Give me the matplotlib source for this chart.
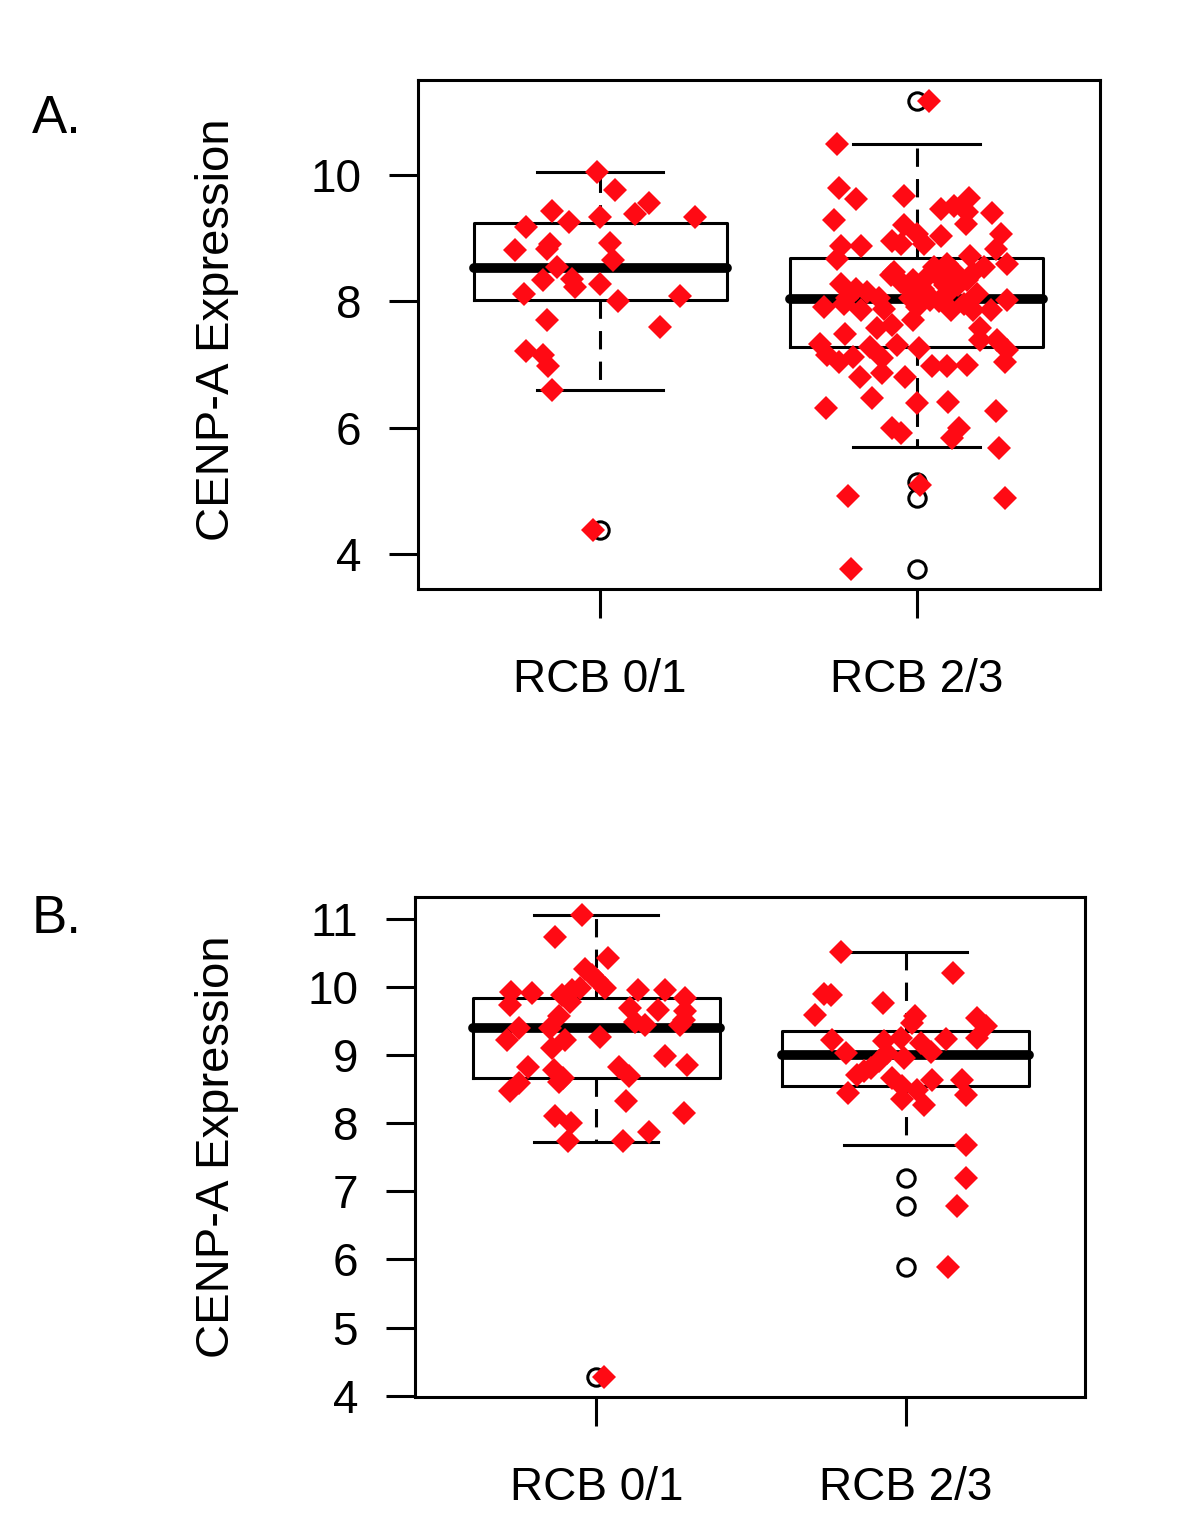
import matplotlib
matplotlib.use("Agg")
import matplotlib.pyplot as plt

plt.rcParams['font.family'] = ['Liberation Sans', 'DejaVu Sans']

groups = ["RCB 0/1", "RCB 2/3"]

# panel A box statistics
a_q1 = [8.02, 7.28]
a_med = [8.53, 8.03]
a_q3 = [9.24, 8.69]
a_lo = [6.60, 5.69]
a_hi = [10.05, 10.49]
a_fliers = [[4.39], [11.17, 5.15, 4.89, 3.76]]

# panel A jittered points (offset from group centre, value)
a1_jit = [-0.01, 0.047, -0.153, 0.0, 0.11, 0.153, 0.30, -0.10, -0.234, -0.269,
          -0.158, -0.169, 0.032, 0.042, -0.137, -0.18, -0.09, -0.079, 0.0, -0.24,
          0.055, 0.251, -0.169, 0.188, -0.234, -0.18, -0.164, -0.153, -0.023]
a1_y = [10.05, 9.76, 9.43, 9.33, 9.38, 9.55, 9.34, 9.25, 9.18, 8.81,
        8.90, 8.83, 8.93, 8.65, 8.54, 8.33, 8.36, 8.23, 8.28, 8.12,
        8.0, 8.09, 7.71, 7.60, 7.22, 7.15, 6.97, 6.59, 4.39]

a2_jit = [0.04, -0.253, -0.246, -0.19, -0.04, -0.26, 0.166, 0.118, 0.076, 0.16,
          0.24, 0.155, -0.04, -0.077, -0.05, 0.002, 0.023, 0.076, 0.266, 0.25,
          -0.24, -0.177, -0.25, 0.17, 0.287, 0.213, 0.097, 0.055, -0.082, -0.05,
          -0.01, 0.034, 0.076, 0.118, 0.16, -0.24, -0.19, -0.157, -0.019, 0.034,
          0.097, 0.19, 0.287, -0.293, -0.23, -0.177, -0.103, 0.002, 0.044, 0.108,
          0.18, 0.234, -0.01, -0.124, -0.077, -0.225, 0.20, -0.304, -0.146, -0.061,
          0.007, 0.20, 0.255, -0.283, -0.246, -0.20, -0.11, 0.287, 0.28, 0.05,
          0.097, 0.16, -0.18, -0.11, -0.035, -0.14, 0.0, 0.10, -0.285, 0.25,
          -0.077, -0.05, 0.134, 0.113, 0.26, 0.01, -0.217, 0.28, -0.206,
          0.06, 0.09, 0.02, 0.12, -0.02, 0.07, 0.13, -0.12, 0.15, -0.07, 0.18, -0.22]
a2_y = [11.17, 10.48, 9.79, 9.62, 9.67, 9.29, 9.64, 9.51, 9.46, 9.41,
        9.39, 9.22, 9.20, 8.96, 8.91, 9.07, 8.91, 9.04, 9.07, 8.83,
        8.88, 8.88, 8.67, 8.72, 8.59, 8.54, 8.59, 8.54, 8.41, 8.30,
        8.33, 8.38, 8.36, 8.38, 8.33, 8.28, 8.20, 8.15, 8.17, 8.12,
        8.12, 8.12, 8.02, 7.91, 7.96, 7.86, 7.88, 7.91, 8.02, 7.86,
        7.86, 7.86, 7.70, 7.57, 7.62, 7.49, 7.57, 7.33, 7.28, 7.31,
        7.26, 7.39, 7.39, 7.15, 7.04, 7.12, 7.10, 7.23, 7.04, 6.97,
        6.97, 6.99, 6.81, 6.86, 6.81, 6.47, 6.39, 6.41, 6.31, 6.26,
        6.0, 5.92, 6.0, 5.84, 5.68, 5.10, 4.92, 4.89, 3.76,
        8.45, 8.25, 8.20, 8.48, 8.05, 8.0, 8.25, 8.05, 7.95, 8.47, 8.45, 8.05]

# panel B box statistics
b_q1 = [8.67, 8.55]
b_med = [9.40, 9.00]
b_q3 = [9.84, 9.35]
b_lo = [7.73, 7.68]
b_hi = [11.06, 10.51]
b_fliers = [[4.28], [7.20, 6.79, 5.89]]

b1_jit = [-0.046, -0.135, 0.038, -0.036, -0.014, 0.002, 0.029, -0.275, -0.208, -0.111,
          -0.079, -0.052, -0.084, 0.135, 0.223, 0.288, -0.278, 0.11, 0.20, 0.288,
          -0.12, 0.283, 0.126, 0.159, 0.272, -0.251, -0.149, -0.289, -0.10, 0.013,
          -0.143, 0.223, 0.294, -0.221, -0.138, 0.072, -0.106, 0.105, -0.251, -0.278,
          -0.122, 0.096, 0.283, -0.133, -0.081, 0.172, -0.09, 0.088, 0.024]
b1_y = [11.05, 10.74, 10.42, 10.27, 10.18, 10.10, 9.98, 9.93, 9.91, 9.88,
        9.96, 9.98, 9.78, 9.96, 9.96, 9.83, 9.74, 9.69, 9.66, 9.64,
        9.57, 9.52, 9.49, 9.44, 9.44, 9.40, 9.40, 9.22, 9.22, 9.27,
        9.10, 8.98, 8.86, 8.83, 8.78, 8.83, 8.66, 8.69, 8.59, 8.47,
        8.61, 8.32, 8.15, 8.10, 8.00, 7.87, 7.74, 7.74, 4.27]

b2_jit = [-0.21, 0.153, -0.264, -0.24, -0.073, -0.294, 0.032, 0.022, 0.232, 0.259,
          0.232, -0.237, -0.016, 0.13, -0.07, 0.049, -0.194, 0.081, -0.005, -0.06,
          -0.086, -0.113, -0.135, -0.156, -0.043, 0.086, 0.183, -0.011, 0.038, -0.185,
          0.194, -0.011, 0.059, 0.194, 0.194, 0.167, 0.138]
b2_y = [10.51, 10.20, 9.89, 9.88, 9.76, 9.59, 9.57, 9.47, 9.54, 9.42,
        9.25, 9.22, 9.25, 9.24, 9.20, 9.18, 9.03, 9.05, 8.96, 9.03,
        8.91, 8.81, 8.76, 8.71, 8.66, 8.64, 8.64, 8.54, 8.49, 8.44,
        8.42, 8.35, 8.27, 7.68, 7.20, 6.79, 5.89]


def draw_panel(ax, q1, med, q3, lo, hi, fliers, pts, ylim, yticks, xlim):
    stats = []
    for i in range(2):
        stats.append({"q1": q1[i], "med": med[i], "q3": q3[i],
                      "whislo": lo[i], "whishi": hi[i], "fliers": fliers[i]})
    ax.bxp(stats, positions=[1, 2], widths=0.8, capwidths=0.4,
           boxprops=dict(color="black", linewidth=2.2),
           whiskerprops=dict(color="black", linewidth=2.2, linestyle=(0, (6, 4))),
           capprops=dict(color="black", linewidth=2.2),
           medianprops=dict(color="black", linewidth=7, solid_capstyle="round"),
           flierprops=dict(marker="o", markersize=12.5, markerfacecolor="none",
                           markeredgecolor="black", markeredgewidth=2.2),
           manage_ticks=False)
    for i, (jit, ys) in enumerate(pts):
        xs = [i + 1 + j for j in jit]
        ax.plot(xs, ys, linestyle="none", marker="D", markersize=12,
                color="#ff0a14", markeredgewidth=0, zorder=5)
    ax.set_xlim(*xlim)
    ax.set_ylim(*ylim)
    ax.set_xticks([1, 2])
    ax.set_xticklabels(groups)
    ax.set_yticks(yticks)
    ax.set_yticklabels([str(t) for t in yticks])
    for s in ax.spines.values():
        s.set_linewidth(2.2)
    ax.tick_params(length=21, width=2.2, labelsize=33)
    ax.tick_params(axis="x", pad=29)
    ax.tick_params(axis="y", pad=20)


fig = plt.figure(figsize=(12, 15.38), dpi=100)

axA = fig.add_axes([418 / 1200, 1 - 589 / 1538, 682 / 1200, 509 / 1538])
draw_panel(axA, a_q1, a_med, a_q3, a_lo, a_hi, a_fliers,
           [(a1_jit, a1_y), (a2_jit, a2_y)], (3.45, 11.5), [4, 6, 8, 10], (0.424, 2.58))

axB = fig.add_axes([415 / 1200, 1 - 1397 / 1538, 670 / 1200, 500 / 1538])
draw_panel(axB, b_q1, b_med, b_q3, b_lo, b_hi, b_fliers,
           [(b1_jit, b1_y), (b2_jit, b2_y)], (3.98, 11.32), [4, 5, 6, 7, 8, 9, 10, 11], (0.414, 2.58))

fig.text(217 / 1200, 1 - 330 / 1538, "CENP-A Expression", rotation=90,
         ha="center", va="center", fontsize=34)
fig.text(217 / 1200, 1 - 1147 / 1538, "CENP-A Expression", rotation=90,
         ha="center", va="center", fontsize=34)
fig.text(32 / 1200, 1 - 133 / 1538, "A.", fontsize=38, va="baseline")
fig.text(32 / 1200, 1 - 933 / 1538, "B.", fontsize=38, va="baseline")

fig.savefig("out.png", dpi=100, facecolor="white")
